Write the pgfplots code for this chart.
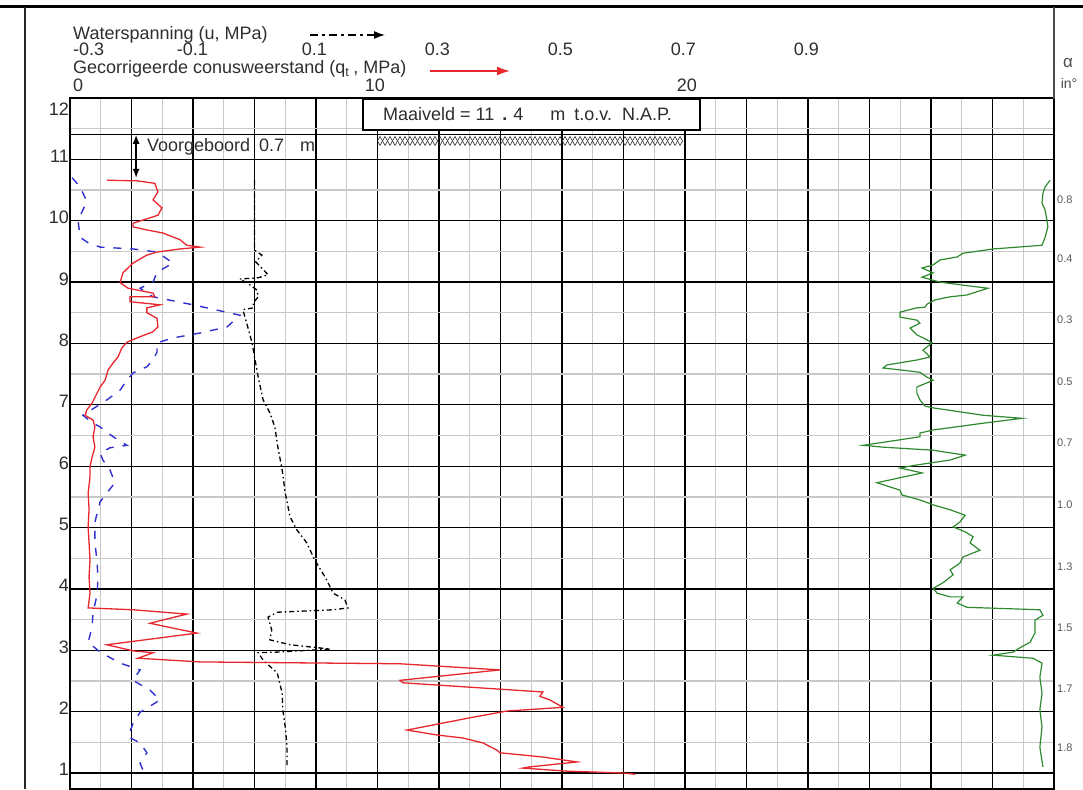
\documentclass[border=0pt]{standalone}
\usepackage{pgfplots}
\usepackage{pgfplotstable}
\pgfplotsset{compat=1.18}
\usepackage{fontspec}
\setmainfont{Liberation Sans}
\usetikzlibrary{decorations.pathmorphing,arrows.meta}
\definecolor{txt}{HTML}{2E2E2E}
\definecolor{mingrid}{HTML}{C8C8C8}
\definecolor{cptred}{HTML}{E8262E}
\definecolor{cptgreen}{HTML}{2F8A2F}
\definecolor{cptblue}{HTML}{3030D0}
\tikzset{alab/.style={anchor=west, inner sep=0pt, text=black!65, font=\fontsize{11}{12}\selectfont, xshift=3pt},
         tl/.style={inner sep=0pt, text=txt}}

% corrected cone resistance q_t (MPa) vs depth (m NAP)
\pgfplotstableread{
x d
1.20 10.66
2.18 10.65
2.76 10.61
2.86 10.47
2.70 10.34
2.99 10.21
2.86 10.09
2.37 10.01
2.05 9.96
2.05 9.90
2.50 9.85
3.02 9.80
3.58 9.69
3.80 9.60
4.23 9.57
3.58 9.54
2.83 9.49
2.50 9.44
2.05 9.31
1.72 9.15
1.63 8.99
1.89 8.90
2.70 8.82
2.76 8.76
1.95 8.76
1.95 8.68
2.93 8.63
2.50 8.58
2.50 8.50
2.83 8.41
2.86 8.27
2.70 8.19
2.28 8.11
1.85 8.02
1.69 7.93
1.56 7.78
1.40 7.68
1.24 7.57
1.14 7.40
0.98 7.29
0.88 7.19
0.72 7.03
0.55 6.92
0.49 6.83
0.75 6.75
0.81 6.64
0.75 6.48
0.81 6.31
0.72 6.15
0.65 5.99
0.65 5.82
0.59 5.56
0.62 5.30
0.59 5.01
0.62 4.75
0.65 4.47
0.62 4.20
0.65 3.93
0.59 3.69
2.05 3.66
3.80 3.59
2.60 3.44
4.13 3.28
1.20 3.09
2.05 2.99
2.70 2.96
2.21 2.87
4.23 2.81
10.73 2.78
13.98 2.68
10.73 2.51
10.83 2.47
15.38 2.32
15.28 2.25
15.61 2.19
16.03 2.07
14.21 2.01
13.01 1.90
10.96 1.70
11.93 1.62
12.78 1.57
13.43 1.49
13.89 1.37
13.98 1.33
15.38 1.26
16.49 1.18
14.96 1.10
14.73 1.08
16.16 1.03
17.98 1.00
18.37 0.98
}\qtdata

% blue dashed series (plotted in q_t units)
\pgfplotstableread{
x d
0.07 10.70
0.33 10.55
0.55 10.31
0.26 10.01
0.33 9.73
0.59 9.64
0.98 9.57
2.05 9.54
2.83 9.49
3.35 9.31
2.83 9.16
2.70 9.00
2.28 8.90
2.70 8.76
4.00 8.63
5.53 8.46
5.11 8.27
4.23 8.17
3.35 8.09
2.83 8.01
2.83 7.86
2.70 7.73
2.50 7.62
2.05 7.52
1.79 7.36
1.63 7.24
1.20 7.08
0.42 6.83
0.75 6.70
0.98 6.64
1.40 6.48
1.85 6.34
1.30 6.30
0.98 6.21
1.07 6.10
1.30 5.94
1.46 5.73
0.98 5.42
0.81 5.09
0.81 4.76
0.88 4.44
0.91 4.18
0.88 3.90
0.75 3.62
0.72 3.38
0.59 3.13
0.98 2.97
1.63 2.79
2.28 2.68
2.05 2.51
2.60 2.35
2.93 2.19
2.28 1.99
2.05 1.81
1.89 1.59
2.28 1.49
2.50 1.33
2.28 1.16
2.37 1.05
}\fsdata

% pore water pressure u (MPa)
\pgfplotstableread{
u d
0.000 10.66
0.000 9.52
0.012 9.44
0.002 9.33
0.022 9.12
0.006 9.07
-0.024 9.05
-0.011 8.98
0.004 8.87
0.006 8.76
-0.002 8.66
-0.002 8.58
-0.019 8.55
-0.011 8.27
-0.004 8.01
0.001 7.73
0.006 7.45
0.014 7.08
0.025 6.87
0.033 6.64
0.038 6.31
0.045 5.94
0.050 5.56
0.058 5.17
0.069 4.96
0.085 4.75
0.098 4.47
0.115 4.19
0.128 3.93
0.147 3.82
0.152 3.69
0.128 3.66
0.037 3.62
0.022 3.54
0.028 3.33
0.025 3.17
0.058 3.09
0.123 3.02
0.037 2.97
0.006 2.96
0.014 2.84
0.037 2.63
0.045 2.30
0.046 2.03
0.050 1.75
0.053 1.42
0.053 1.08
}\udata

% green series (plotted in q_t units)
\pgfplotstableread{
x d
31.87 10.66
31.71 10.55
31.64 10.45
31.61 10.29
31.71 10.17
31.77 10.01
31.80 9.90
31.71 9.73
31.61 9.60
30.02 9.54
29.04 9.47
28.85 9.41
28.29 9.36
28.07 9.28
27.71 9.23
28.07 9.15
27.71 9.08
28.07 9.03
28.29 9.00
29.04 8.95
29.85 8.90
29.17 8.79
28.62 8.76
28.13 8.71
27.87 8.64
27.80 8.59
27.54 8.58
26.99 8.51
26.99 8.43
27.54 8.38
27.64 8.33
27.32 8.25
27.54 8.14
27.87 8.06
28.03 8.01
27.74 7.89
27.97 7.78
27.54 7.73
26.57 7.65
26.44 7.60
26.99 7.57
27.64 7.53
27.87 7.45
28.07 7.40
27.54 7.29
27.54 7.19
27.64 7.08
27.80 6.98
28.07 6.95
29.69 6.83
30.96 6.78
29.69 6.70
28.07 6.59
27.64 6.54
27.64 6.48
26.99 6.43
25.79 6.34
26.44 6.31
28.07 6.26
29.11 6.18
28.62 6.10
27.54 6.02
26.99 5.97
27.71 5.89
26.24 5.73
26.99 5.61
27.06 5.53
27.64 5.45
28.07 5.37
28.62 5.29
29.11 5.20
28.94 5.09
28.72 5.01
29.11 4.93
29.37 4.85
29.27 4.75
29.59 4.63
29.04 4.52
28.94 4.42
28.62 4.31
28.72 4.23
28.39 4.10
28.07 4.01
28.20 3.93
28.62 3.87
29.04 3.87
28.85 3.77
29.17 3.70
31.54 3.66
31.64 3.57
31.38 3.49
31.38 3.28
31.22 3.13
30.89 3.04
30.67 2.97
30.02 2.92
30.80 2.89
31.32 2.87
31.61 2.79
31.54 2.56
31.61 2.30
31.54 2.03
31.61 1.75
31.54 1.42
31.64 1.10
}\grdata

\begin{document}
\begin{tikzpicture}
\useasboundingbox (0pt,0pt) rectangle (1083pt,-789pt);
\fontsize{18}{20}\selectfont
\begin{axis}[
  scale only axis, width=984pt, height=691pt,
  at={(70pt,-789pt)}, anchor=south west,
  xmin=0, xmax=32, ymin=0.739, ymax=12,
  xtick={0,2,...,32}, minor xtick={1,3,...,31}, xticklabels={},
  ytick={1,...,11}, minor ytick={1.5,2.5,...,11.5},
  grid=both,
  major grid style={black, line width=1.3pt},
  minor grid style={mingrid, line width=1.3pt},
  major tick length=0pt, minor tick length=0pt,
  axis line style={black, line width=1.3pt},
  /pgf/number format/assume math mode=true,
  yticklabel style={font=\fontsize{18}{20}\selectfont, text=txt, inner sep=1pt, anchor=base east, yshift=-3pt},
  clip=false,
]
% ground level line
\addplot[black, line width=1.3pt] coordinates {(0,11.4) (32,11.4)};
\addplot[cptblue, line width=1.4pt, dash pattern=on 8pt off 9pt] table[x=x,y=d] {\fsdata};
\addplot[black, line width=1.3pt, dash pattern=on 5pt off 3pt on 1.5pt off 3pt] table[x expr={(\thisrow{u}+0.3)*20}, y=d] {\udata};
\addplot[cptred, line width=1.3pt] table[x=x,y=d] {\qtdata};
\addplot[cptgreen, line width=1.2pt] table[x=x,y=d] {\grdata};

% crosshatch band
\draw[decorate, decoration={zigzag, segment length=10pt, amplitude=4.5pt}, line width=0.6pt, black!80]
  (axis cs:10,11.30) -- (axis cs:19.93,11.30);
\draw[decorate, decoration={zigzag, segment length=10pt, amplitude=4.5pt, mirror}, line width=0.6pt, black!80]
  (axis cs:10,11.30) -- (axis cs:19.93,11.30);
% Voorgeboord
\draw[{Latex[length=9pt,width=7pt]}-{Latex[length=9pt,width=7pt]}, line width=1.3pt]
  (axis cs:2.15,11.40) -- (axis cs:2.15,10.70);
\node[tl, anchor=base west] at (axis cs:2.50,11.136) {Voorgeboord\hspace{9pt}0.7\hspace{16pt}m};
% y label 12
\node[anchor=base east, inner sep=1pt, text=txt, font=\fontsize{18}{20}\selectfont] at (axis cs:0,11.71) {12};
% alpha labels on the right
\node[alab] at (axis cs:32,10.34) {0.8};
\node[alab] at (axis cs:32,9.38) {0.4};
\node[alab] at (axis cs:32,8.38) {0.3};
\node[alab] at (axis cs:32,7.37) {0.5};
\node[alab] at (axis cs:32,6.38) {0.7};
\node[alab] at (axis cs:32,5.37) {1.0};
\node[alab] at (axis cs:32,4.36) {1.3};
\node[alab] at (axis cs:32,3.36) {1.5};
\node[alab] at (axis cs:32,2.38) {1.7};
\node[alab] at (axis cs:32,1.41) {1.8};
\end{axis}

% Maaiveld box
\draw[line width=1.3pt, fill=white] (363pt,-99pt) rectangle (700pt,-130pt);
\node[tl, anchor=base west] at (383pt,-121pt) {Maaiveld = 11\hspace{8pt}{\bfseries .}\hspace{6pt}4\hspace{27pt}m\hspace{9pt}t.o.v.\hspace{10pt}N.A.P.};

% frame
\draw[line width=3pt, black] (0pt,-7pt) -- (1083pt,-7pt);
\draw[line width=1.5pt, black!85] (25pt,-7pt) -- (25pt,-789pt);
\draw[line width=1.3pt, black!70] (1054pt,-7pt) -- (1054pt,-99pt);

% top legend texts
\node[tl, anchor=base west] at (73pt,-40pt) {Waterspanning (u, MPa)};
\draw[black, line width=1.3pt, dash pattern=on 8pt off 4pt on 3pt off 4pt, -{Latex[length=11pt,width=8pt]}] (310pt,-35pt) -- (385pt,-35pt);
\node[tl, anchor=base west] at (73pt,-56pt) {-0.3};
\node[tl, anchor=base east] at (208pt,-56pt) {-0.1};
\node[tl, anchor=base east] at (327pt,-56pt) {0.1};
\node[tl, anchor=base east] at (450pt,-56pt) {0.3};
\node[tl, anchor=base east] at (573pt,-56pt) {0.5};
\node[tl, anchor=base east] at (696pt,-56pt) {0.7};
\node[tl, anchor=base east] at (819pt,-56pt) {0.9};
\node[tl, anchor=base west] at (73pt,-74pt) {Gecorrigeerde conusweerstand (q\textsubscript{t}\hspace{4pt}, MPa)};
\draw[cptred, line width=1.6pt, -{Latex[length=13pt,width=9pt]}] (430pt,-71pt) -- (510pt,-71pt);
\node[tl, anchor=base west] at (73pt,-92pt) {0};
\node[tl, anchor=base east] at (385pt,-92pt) {10};
\node[tl, anchor=base east] at (697pt,-92pt) {20};
% alpha header
\node[inner sep=0pt, text=black!70, font=\fontsize{17}{18}\selectfont] at (1068pt,-63pt) {α};
\node[inner sep=0pt, text=black!70, font=\fontsize{14}{15}\selectfont] at (1069pt,-83pt) {in°};
\end{tikzpicture}
\end{document}
